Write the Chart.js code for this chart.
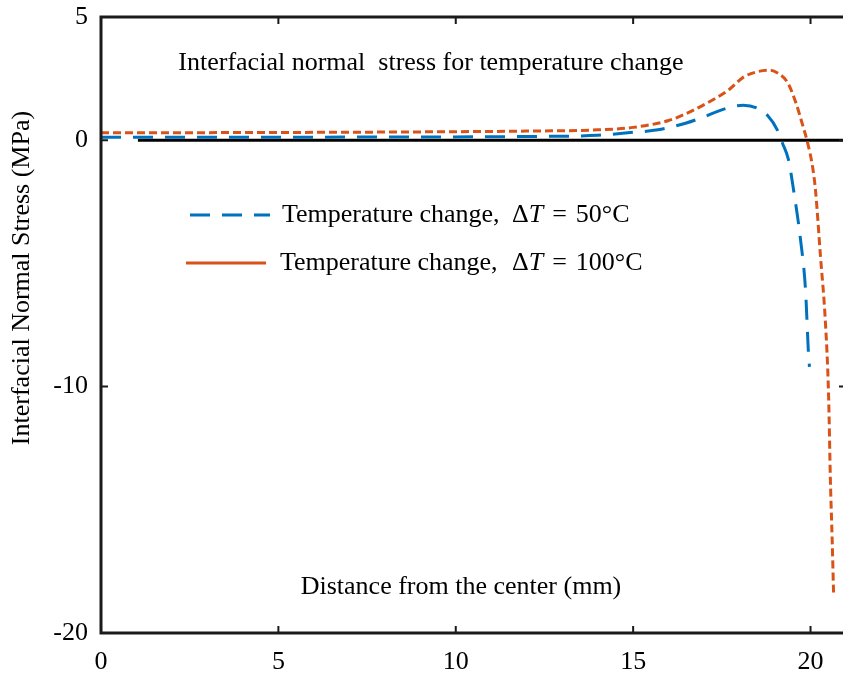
<!DOCTYPE html>
<html>
<head>
<meta charset="utf-8">
<script src="https://cdn.jsdelivr.net/npm/chart.js@4.4.1/dist/chart.umd.min.js"></script>
<style>
  html, body { margin: 0; padding: 0; background: #fff; overflow: hidden; }
  #wrap { width: 846px; height: 682px; position: relative; }
</style>
</head>
<body>
<div id="wrap"><canvas id="stressChart"></canvas></div>
<script>
// distance from the center (mm) and stress (MPa)
const dt50X = [0, 4, 8, 12, 14, 15, 15.7, 16.5, 17, 17.4, 17.8, 18.1, 18.5, 18.79, 19.07, 19.21, 19.38, 19.52, 19.72, 19.86, 19.94, 19.97];
const dt50Y = [0.12, 0.12, 0.13, 0.15, 0.2, 0.32, 0.42, 0.7, 0.95, 1.18, 1.36, 1.42, 1.3, 1.0, 0.4, -0.12, -0.8, -2.0, -4.06, -6.1, -8.6, -9.2];
const dt100X = [0, 4, 8, 12, 14, 15, 16, 16.6, 17.2, 17.7, 18.1, 18.5, 18.87, 19.1, 19.35, 19.58, 19.75, 19.92, 20.06, 20.14, 20.28, 20.42, 20.51, 20.56, 20.61, 20.65];
const dt100Y = [0.3, 0.31, 0.33, 0.37, 0.42, 0.52, 0.8, 1.15, 1.6, 2.05, 2.55, 2.78, 2.84, 2.7, 2.35, 1.55, 0.75, -0.12, -1.1, -2.03, -4.7, -7.4, -10.4, -13.8, -16.2, -18.4];
const zeroX = [1.04, 21];
const zeroY = [0, 0];

const xTicks = [0, 5, 10, 15, 20];
const yTicks = [-20, -10, 0, 5];

const legendLabels = ["Temperature change, ", "Temperature change, "];
const legendValues = ["50°C", "100°C"];
const chartTitle = "Interfacial normal  stress for temperature change";
const xTitle = "Distance from the center (mm)";
const yTitle = "Interfacial Normal Stress (MPa)";

const BLUE = "#0072BD";
const ORANGE = "#D95319";
const SERIF = "'Liberation Serif', 'Times New Roman', serif";
const FS = 26;

function toPoints(xs, ys) {
    return xs.map((x, i) => ({ x: x, y: ys[i] }));
}

// box, inward ticks and the texts that sit inside the plot
const decorPlugin = {
    id: "decor",
    afterDraw(chart) {
        const ctx = chart.ctx;
        const a = chart.chartArea;
        const xs = chart.scales.x;
        const ys = chart.scales.y;
        ctx.save();

        ctx.strokeStyle = "#1a1a1a";
        ctx.lineWidth = 3;
        ctx.strokeRect(a.left, a.top, a.right - a.left, a.bottom - a.top);

        ctx.lineWidth = 2;
        ctx.beginPath();
        xTicks.forEach(v => {
            const px = xs.getPixelForValue(v);
            ctx.moveTo(px, a.bottom); ctx.lineTo(px, a.bottom - 7);
            ctx.moveTo(px, a.top); ctx.lineTo(px, a.top + 7);
        });
        yTicks.forEach(v => {
            const py = ys.getPixelForValue(v);
            ctx.moveTo(a.left, py); ctx.lineTo(a.left + 7, py);
            ctx.moveTo(a.right, py); ctx.lineTo(a.right - 7, py);
        });
        ctx.stroke();

        ctx.fillStyle = "#000";
        ctx.textBaseline = "middle";
        ctx.textAlign = "center";
        ctx.font = FS + "px " + SERIF;
        ctx.fillText(chartTitle, 431, 63);
        ctx.fillText(xTitle, 461, 587);

        ctx.save();
        ctx.translate(22, 278);
        ctx.rotate(-Math.PI / 2);
        ctx.fillText(yTitle, 0, 0);
        ctx.restore();

        // legend
        const rows = [
            { y: 215, x0: 190, x1: 270, tx: 282, color: BLUE, dash: [20, 12] },
            { y: 263, x0: 186, x1: 266, tx: 280, color: ORANGE, dash: [] }
        ];
        rows.forEach((r, i) => {
            ctx.strokeStyle = r.color;
            ctx.lineWidth = 3;
            ctx.setLineDash(r.dash);
            ctx.beginPath();
            ctx.moveTo(r.x0, r.y); ctx.lineTo(r.x1, r.y);
            ctx.stroke();
            ctx.setLineDash([]);

            ctx.textAlign = "left";
            let x = r.tx;
            ctx.font = FS + "px " + SERIF;
            ctx.fillText(legendLabels[i], x, r.y);
            x = 512;
            ctx.fillText("Δ", x, r.y);
            x += ctx.measureText("Δ").width;
            ctx.font = "italic " + FS + "px " + SERIF;
            ctx.fillText("T", x, r.y);
            x += ctx.measureText("T").width + 9;
            ctx.font = FS + "px " + SERIF;
            ctx.fillText("=", x, r.y);
            x += ctx.measureText("=").width + 9;
            ctx.fillText(legendValues[i], x, r.y);
        });
        ctx.restore();
    }
};

const ctx = document.getElementById("stressChart").getContext("2d");
const chart = new Chart(ctx, {
    type: "line",
    data: {
        datasets: [
            {
                label: "zero",
                data: toPoints(zeroX, zeroY),
                borderColor: "#000",
                borderWidth: 3,
                pointRadius: 0,
                order: 3
            },
            {
                label: "Temperature change, ΔT = 50℃",
                data: toPoints(dt50X, dt50Y),
                borderColor: BLUE,
                borderWidth: 3,
                borderDash: [20, 12],
                pointRadius: 0,
                cubicInterpolationMode: "monotone",
                order: 2
            },
            {
                label: "Temperature change, ΔT = 100℃",
                data: toPoints(dt100X, dt100Y),
                borderColor: ORANGE,
                borderWidth: 3,
                borderDash: [8, 4],
                pointRadius: 0,
                cubicInterpolationMode: "monotone",
                order: 1
            }
        ]
    },
    options: {
        responsive: true,
        maintainAspectRatio: false,
        animation: false,
        layout: { padding: { top: 17, right: 0, left: 0, bottom: 0 } },
        plugins: {
            legend: { display: false },
            tooltip: { enabled: false }
        },
        scales: {
            x: {
                type: "linear",
                min: 0,
                max: 21,
                grid: { display: false, drawTicks: false },
                border: { display: false },
                afterBuildTicks: scale => { scale.ticks = xTicks.map(v => ({ value: v })); },
                afterFit: scale => {
                    scale.height = 49;
                    scale.paddingLeft = 0;
                    scale.paddingRight = 0;
                },
                ticks: {
                    color: "#000",
                    padding: 14,
                    maxRotation: 0,
                    font: { family: SERIF, size: FS }
                }
            },
            y: {
                min: -20,
                max: 5,
                grid: { display: false, drawTicks: false },
                border: { display: false },
                afterBuildTicks: scale => { scale.ticks = yTicks.map(v => ({ value: v })); },
                afterFit: scale => {
                    scale.width = 101;
                    scale.paddingTop = 0;
                    scale.paddingBottom = 0;
                },
                ticks: {
                    color: "#000",
                    padding: 13,
                    font: { family: SERIF, size: FS }
                }
            }
        }
    },
    plugins: [decorPlugin]
});
</script>
</body>
</html>
